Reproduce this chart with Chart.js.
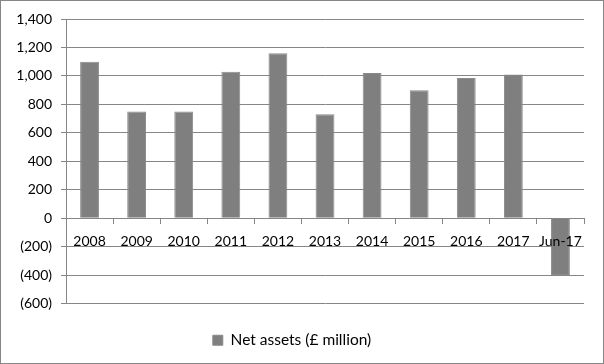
<!DOCTYPE html>
<html>
<head>
<meta charset="utf-8">
<script src="https://cdn.jsdelivr.net/npm/chart.js@4/dist/chart.umd.min.js"></script>
<style>
  body { margin: 0; background: #fff; }
  #wrap { width: 604px; height: 364px; }
</style>
</head>
<body>
<div id="wrap"><canvas id="myChart" width="604" height="364"></canvas></div>
<script>
const categories = ["2008", "2009", "2010", "2011", "2012", "2013", "2014", "2015", "2016", "2017", "Jun-17"];
const netAssets = [1100, 750, 750, 1030, 1160, 730, 1020, 900, 985, 1010, -400];
const seriesName = "Net assets (£ million)";

const formatTick = (v) => {
  const s = Math.abs(v).toLocaleString("en-US");
  return v < 0 ? "(" + s + ")" : s;
};

// outer frame round the whole chart
const frame = {
  id: "frame",
  afterDraw(chart) {
    const c = chart.ctx;
    c.save();
    c.strokeStyle = "#868686";
    c.lineWidth = 1;
    c.strokeRect(0.5, 0.5, chart.width - 1, chart.height - 1);
    c.restore();
  },
};

const ctx = document.getElementById("myChart");
new Chart(ctx, {
  type: "bar",
  data: {
    labels: categories,
    datasets: [
      {
        label: seriesName,
        data: netAssets,
        backgroundColor: "#7f7f7f",
        borderColor: "#8a8a8a",
        borderWidth: 1,
        barPercentage: 0.4,
        categoryPercentage: 1,
      },
    ],
  },
  options: {
    responsive: false,
    animation: false,
    layout: { padding: { top: 19, right: 20, left: 0, bottom: 6 } },
    scales: {
      x: {
        position: { y: 0 },
        offset: true,
        grid: {
          offset: true,
          drawOnChartArea: false,
          drawTicks: true,
          tickLength: 5,
          color: "#868686",
        },
        border: { color: "#868686", z: 1 },
        ticks: {
          z: 1,
          color: "#000",
          font: { family: "Lato", size: 14 },
          padding: 10,
          maxRotation: 0,
          autoSkip: false,
        },
      },
      y: {
        min: -600,
        max: 1400,
        afterFit: (scale) => { scale.width = 66; },
        ticks: {
          stepSize: 200,
          color: "#000",
          font: { family: "Lato", size: 14 },
          padding: 9,
          callback: (v) => formatTick(v),
        },
        grid: { color: "#868686", drawTicks: true, tickLength: 5 },
        border: { color: "#868686" },
      },
    },
    plugins: {
      legend: {
        position: "bottom",
        labels: {
          color: "#000",
          font: { family: "Lato", size: 15.5 },
          boxWidth: 10,
          boxHeight: 10,
          padding: 29,
        },
      },
      tooltip: { enabled: false },
    },
  },
  plugins: [frame],
});
</script>
</body>
</html>
